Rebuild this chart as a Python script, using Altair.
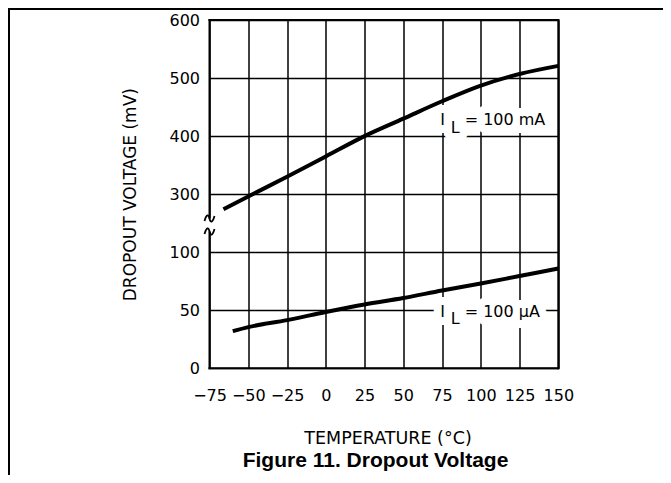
import altair as alt
import pandas as pd

# ---------------- data ----------------
upper_temp = [-66, -50, -25, 0, 25, 50, 75, 100, 125, 150]
upper_mv = [274, 296, 330, 365, 400, 430, 460, 487, 507, 521]
lower_temp = [-60, -50, -25, 0, 25, 50, 75, 100, 125, 150]
lower_mv = [32, 35.5, 41.5, 48.5, 55, 60.5, 67, 73, 79.5, 86]

x_ticks = [-75, -50, -25, 0, 25, 50, 75, 100, 125, 150]
y_tick_pos = [0, 1, 2, 3, 4, 5, 6]
y_tick_labels = ["0", "50", "100", "300", "400", "500", "600"]

label_text = ["I", "L", "= 100 mA", "I", "L", "= 100 µA"]
label_temp = [73.9, 80.6, 89.6, 73.9, 80.6, 89.6]
label_mv = [419, 405, 419, 44.4, 38.2, 44.4]

# axis-break marks (upper band end, lower band end)
break_low_mv = 117.8
break_high_mv = 258.1

x_title = "TEMPERATURE (°C)"
y_title = "DROPOUT VOLTAGE (mV)"
caption = "Figure 11. Dropout Voltage"

FONT = "DejaVu Sans"
W, H = 348.8, 348.3
TILDE = "M -1 0.5 C -0.6 -0.9 -0.2 -0.9 0 0 C 0.2 0.9 0.6 0.9 1 -0.5"

# broken axis: 0-100 mV on the lower two bands, 300-600 mV on the upper three
POS = "datum.mv >= 200 ? 3 + (datum.mv - 300) / 100 : datum.mv / 50"
POS2 = "datum.mv2 >= 200 ? 3 + (datum.mv2 - 300) / 100 : datum.mv2 / 50"

curves = pd.DataFrame(
    {"series": ["100 mA"] * len(upper_temp) + ["100 uA"] * len(lower_temp),
     "temp": upper_temp + lower_temp,
     "mv": upper_mv + lower_mv}
)

frame = pd.DataFrame(
    {"temp": [-75, -75, 150, -75, -75],
     "temp2": [150, 150, 150, -75, -75],
     "mv": [600, 0, 0, break_high_mv, 0],
     "mv2": [600, 0, 600, 600, break_low_mv]}
)
gap = pd.DataFrame({"temp": [-75], "temp2": [-75], "mv": [break_low_mv], "mv2": [break_high_mv]})
breaks = pd.DataFrame({"temp": [-75, -75], "mv": [break_high_mv, break_low_mv]})
labels = pd.DataFrame({"t": label_text, "temp": label_temp, "mv": label_mv})

label_expr = "[" + ",".join("'%s'" % s for s in y_tick_labels) + "][datum.value]"

xscale = alt.Scale(domain=[-75, 150], nice=False, zero=False)
yscale = alt.Scale(domain=[0, 6], nice=False, zero=False)

xaxis = alt.Axis(
    values=x_ticks, grid=True, gridColor="black", gridWidth=1.5, gridOpacity=1,
    ticks=False, tickSize=0, domain=False, labelPadding=19, labelFont=FONT,
    labelFontSize=16, labelColor="black", labelFlush=False, labelOverlap=False,
    title=x_title, titleFont=FONT, titleFontSize=17.5, titleFontWeight="normal",
    titleColor="black", titleX=178, titleY=75, titleAlign="center",
    titleBaseline="alphabetic",
)
yaxis = alt.Axis(
    values=y_tick_pos, labelExpr=label_expr, grid=True, gridColor="black",
    gridWidth=1.5, gridOpacity=1, ticks=False, tickSize=0, domain=False,
    labelPadding=10, labelFont=FONT, labelFontSize=16, labelColor="black",
    labelFlush=False, labelOverlap=False,
    title=y_title, titleFont=FONT, titleFontSize=17, titleFontWeight="normal",
    titleColor="black", titleAngle=270, titleX=-74.5, titleY=174.15,
    titleAlign="center", titleBaseline="alphabetic",
)

xenc = alt.X("temp:Q", scale=xscale, axis=xaxis)
yenc = alt.Y("pos:Q", scale=yscale, axis=yaxis)

curve_layer = (
    alt.Chart(curves)
    .transform_calculate(pos=POS)
    .mark_line(color="black", strokeWidth=4, interpolate="monotone")
    .encode(x=xenc, y=yenc, detail="series:N")
)

frame_layer = (
    alt.Chart(frame)
    .transform_calculate(pos=POS, pos2=POS2)
    .mark_rule(color="black", strokeWidth=2, strokeCap="square")
    .encode(x=xenc, x2="temp2:Q", y=yenc, y2="pos2:Q")
)

gap_layer = (
    alt.Chart(gap)
    .transform_calculate(pos=POS, pos2=POS2)
    .mark_rule(color="white", strokeWidth=5)
    .encode(x=xenc, x2="temp2:Q", y=yenc, y2="pos2:Q")
)

break_layer = (
    alt.Chart(breaks)
    .transform_calculate(pos=POS)
    .mark_point(shape=TILDE, size=100, filled=False, color="black", strokeWidth=1.8, opacity=1)
    .encode(x=xenc, y=yenc)
)

halo_layer = (
    alt.Chart(labels)
    .transform_calculate(pos=POS)
    .mark_text(font=FONT, fontSize=16, color="white", stroke="white", strokeWidth=16,
               strokeJoin="round", align="left", baseline="alphabetic")
    .encode(x=xenc, y=yenc, text="t:N")
)

text_layer = (
    alt.Chart(labels)
    .transform_calculate(pos=POS)
    .mark_text(font=FONT, fontSize=16, color="black", align="left", baseline="alphabetic")
    .encode(x=xenc, y=yenc, text="t:N")
)

caption_layer = (
    alt.Chart(pd.DataFrame({"t": [caption]}))
    .mark_text(font="Liberation Sans", fontSize=21, fontWeight="bold", color="black",
               align="center", baseline="alphabetic")
    .encode(x=alt.value(166), y=alt.value(447), text="t:N")
)

one = pd.DataFrame({"a": [0]})
page_left = alt.Chart(one).mark_rule(color="black", strokeWidth=2).encode(
    x=alt.value(-200.5), y=alt.value(-12), y2=alt.value(H + 106.7)
)
page_top = alt.Chart(one).mark_rule(color="black", strokeWidth=2).encode(
    x=alt.value(-201.5), x2=alt.value(655 - 201.5), y=alt.value(-11)
)

chart = (
    alt.layer(
        frame_layer, gap_layer, break_layer, curve_layer, halo_layer, text_layer,
        caption_layer, page_left, page_top,
    )
    .properties(
        width=W, height=H,
        autosize=alt.AutoSizeParams(type="none"),
        padding={"left": 201.5, "top": 12, "right": 104.7, "bottom": 106.7},
        background="white",
    )
    .configure_view(stroke=None)
)

chart.save("out.html", embed_options={"renderer": "svg", "actions": False})
